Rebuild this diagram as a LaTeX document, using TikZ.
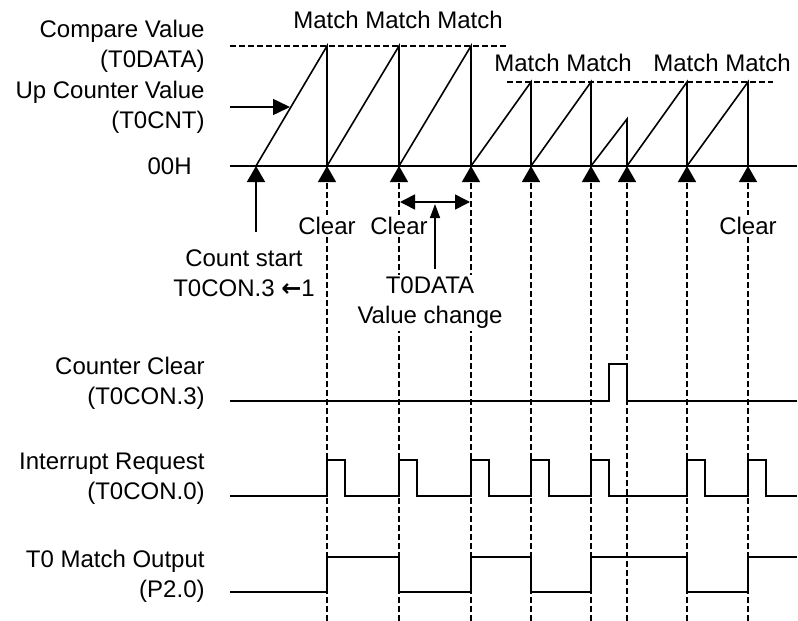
\documentclass[tikz,border=0pt]{standalone}
\usepackage{fontspec}
\setmainfont{Liberation Sans}
\newfontfamily\arrowfont{DejaVu Sans}
\usetikzlibrary{arrows.meta}

\tikzset{
  sig/.style={line width=0.8pt},
  guide/.style={line width=0.7pt, dash pattern=on 3pt off 1.5pt},
  uptip/.style={-{Triangle[length=8pt,width=9pt]}},
  txt/.style={font=\fontsize{12}{15}\selectfont, inner sep=1pt},
  signame/.style={txt, align=right, anchor=east},
  note/.style={txt, fill=white, align=center},
}

\begin{document}
\begin{tikzpicture}[x=0.5pt, y=-0.5pt]
  \useasboundingbox (0,0) rectangle (798,621);

  % points on the 00H line
  \path (256,166) coordinate (t0)
        (327,166) coordinate (t1)
        (399,166) coordinate (t2)
        (471,166) coordinate (t3)
        (531,166) coordinate (t4)
        (591,166) coordinate (t5)
        (627,166) coordinate (t6)
        (687,166) coordinate (t7)
        (748,166) coordinate (t8)
        (230,166) coordinate (ax0)
        (797,166) coordinate (ax1)
        (0,621) coordinate (bot);

  % guides down to the bottom
  \foreach \e in {t1,t2,t3,t4,t5,t6,t7,t8}
    \draw[guide, uptip] (\e |- bot) -- (\e);

  % compare levels
  \draw[guide] (230,46) coordinate (ca0) -- (508,46) coordinate (ca1);
  \draw[guide] (507,82) coordinate (cb0) -- (773,82) coordinate (cb1);

  \draw[sig] (ax0) -- (ax1);
  \draw[sig] (t0) -- (327,46) -- (t1) -- (399,46) -- (t2) -- (471,46) -- (t3)
        -- (531,82) -- (t4) -- (591,82) -- (t5) -- (627,119) -- (t6)
        -- (687,82) -- (t7) -- (748,82) -- (t8);

  % counter clear
  \draw[sig] (230,401) -- (609,401) -- (609,364) -- (627,364) -- (627,401) -- (797,401);
  % interrupt request
  \draw[sig] (230,496) -- (327,496) -- (327,460) -- (345,460) -- (345,496)
        -- (399,496) -- (399,460) -- (417,460) -- (417,496)
        -- (471,496) -- (471,460) -- (489,460) -- (489,496)
        -- (531,496) -- (531,460) -- (549,460) -- (549,496)
        -- (591,496) -- (591,460) -- (609,460) -- (609,496)
        -- (687,496) -- (687,460) -- (705,460) -- (705,496)
        -- (748,496) -- (748,460) -- (766,460) -- (766,496) -- (797,496);
  % match output
  \draw[sig] (230,592) -- (327,592) -- (327,557) -- (399,557) -- (399,592)
        -- (471,592) -- (471,557) -- (531,557) -- (531,592)
        -- (591,592) -- (591,557) -- (687,557) -- (687,592)
        -- (748,592) -- (748,557) -- (797,557);

  % left names
  \node[signame] (cmp)  at (207,46)  {Compare Value\\(T0DATA)};
  \node[signame] (cnt)  at (207,107) {Up Counter Value\\(T0CNT)};
  \node[signame] (zero) at (194,166) {00H};
  \node[signame] (ccl)  at (207,383) {Counter Clear\\(T0CON.3)};
  \node[signame] (irq)  at (207,479) {Interrupt Request\\(T0CON.0)};
  \node[signame] (mout) at (207,576) {T0 Match Output\\(P2.0)};

  \node[txt] (m1) at (398,20) {Match Match Match};
  \node[txt] (m2) at (563,63) {Match Match};
  \node[txt] (m3) at (722,63) {Match Match};

  \node[note] (clr1) at (327,226) {Clear};
  \node[note] (clr2) at (399,226) {Clear};
  \node[note] (clr3) at (748,226) {Clear};
  \node[note] (start) at (244,273) {Count start\\T0CON.3 {\arrowfont\bfseries ←}1};
  \node[note] (chg) at (430,303) {T0DATA\\Value change};

  \coordinate (ua) at (230,107);
  \coordinate (ub) at (290,107);
  \draw[sig, -{Triangle[length=8.5pt,width=8pt]}] (ua) -- (ub);

  \coordinate (sa) at (256,232);
  \draw[sig, uptip] (sa) -- (t0);

  \coordinate (da) at (400,202);
  \coordinate (db) at (470,202);
  \draw[sig, {Triangle[length=7.5pt,width=7.5pt]}-{Triangle[length=7.5pt,width=7.5pt]}] (da) -- (db);
  \coordinate (va) at (435,269);
  \coordinate (vb) at (435,204);
  \draw[sig, -{Triangle[length=7pt,width=5pt]}] (va) -- (vb);
\end{tikzpicture}
\end{document}
